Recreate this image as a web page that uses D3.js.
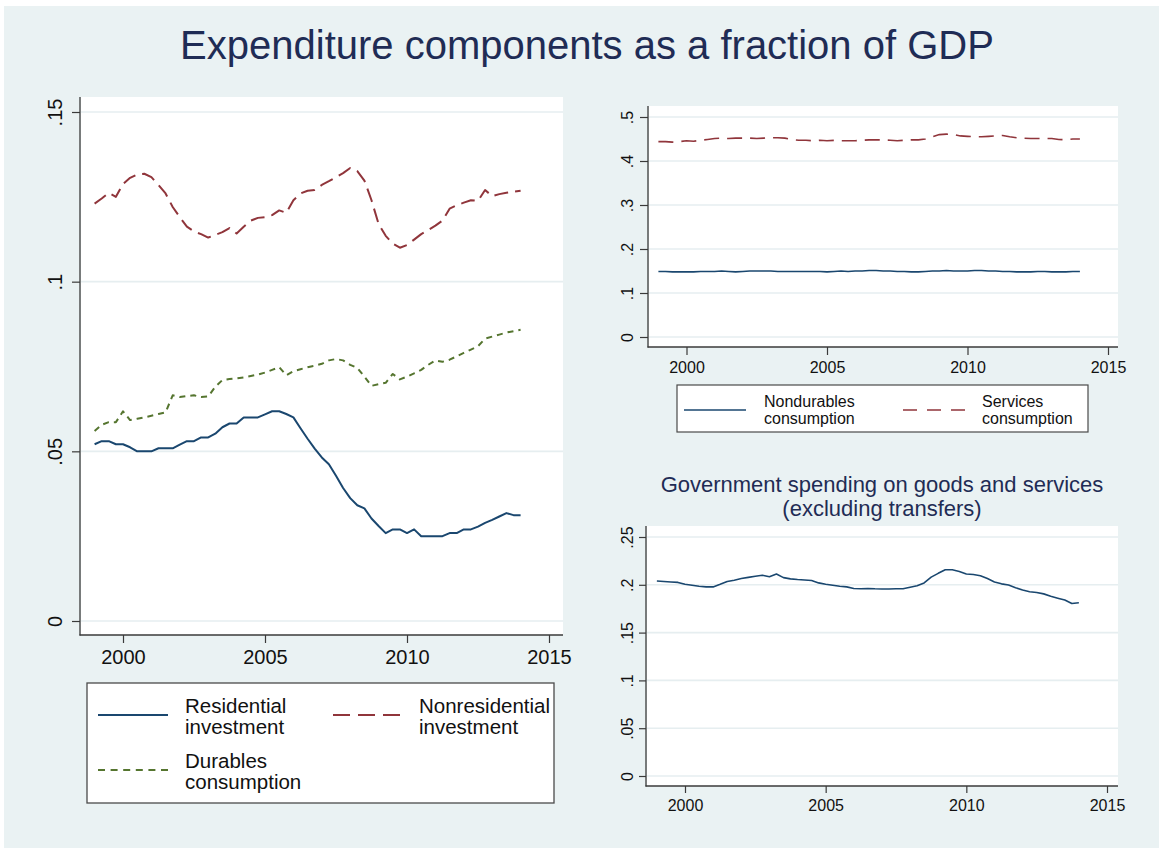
<!DOCTYPE html>
<html>
<head>
<meta charset="utf-8">
<script src="https://cdn.jsdelivr.net/npm/d3@7"></script>
<style>
  html, body { margin: 0; padding: 0; background: #ffffff; }
  svg { display: block; font-family: "Liberation Sans", Arial, Helvetica, sans-serif; }
</style>
</head>
<body>
<script>
// Quarterly observations, 1999Q1 through 2014Q1
const startYear = 1999;
const quarterCount = 61;
const quarters = d3.range(quarterCount).map(i => startYear + i / 4);

// Investment and durables shares of GDP
const residentialInvestment = [
  0.0521, 0.0530, 0.0530, 0.0521,
  0.0521, 0.0512, 0.0500, 0.0500,
  0.0500, 0.0509, 0.0509, 0.0509,
  0.0520, 0.0530, 0.0530, 0.0541,
  0.0541, 0.0552, 0.0571, 0.0582,
  0.0582, 0.0600, 0.0600, 0.0600,
  0.0609, 0.0618, 0.0618, 0.0610,
  0.0600, 0.0568, 0.0537, 0.0508,
  0.0482, 0.0462, 0.0428, 0.0392,
  0.0362, 0.0341, 0.0332, 0.0302,
  0.0280, 0.0259, 0.0270, 0.0270,
  0.0259, 0.0270, 0.0250, 0.0250,
  0.0250, 0.0250, 0.0259, 0.0259,
  0.0270, 0.0270, 0.0278, 0.0289,
  0.0298, 0.0308, 0.0318, 0.0312,
  0.0312
];
const nonresidentialInvestment = [
  0.1230, 0.1245, 0.1262, 0.1250,
  0.1288, 0.1306, 0.1316, 0.1318,
  0.1308, 0.1285, 0.1260, 0.1220,
  0.1190, 0.1162, 0.1148, 0.1140,
  0.1130, 0.1138, 0.1146, 0.1158,
  0.1142, 0.1162, 0.1180, 0.1188,
  0.1190, 0.1196, 0.1210, 0.1203,
  0.1240, 0.1260, 0.1268, 0.1270,
  0.1285, 0.1296, 0.1308, 0.1320,
  0.1335, 0.1326, 0.1298, 0.1240,
  0.1170, 0.1135, 0.1112, 0.1100,
  0.1108, 0.1124, 0.1140, 0.1152,
  0.1165, 0.1180, 0.1215, 0.1225,
  0.1233, 0.1240, 0.1238, 0.1270,
  0.1252, 0.1258, 0.1262, 0.1265,
  0.1268
];
const durablesConsumption = [
  0.0560, 0.0578, 0.0586, 0.0586,
  0.0618, 0.0592, 0.0596, 0.0600,
  0.0605, 0.0610, 0.0615, 0.0665,
  0.0660, 0.0663, 0.0665, 0.0660,
  0.0662, 0.0690, 0.0710, 0.0713,
  0.0715, 0.0718, 0.0722, 0.0726,
  0.0732, 0.0740, 0.0748, 0.0724,
  0.0736, 0.0742, 0.0748, 0.0752,
  0.0758, 0.0768, 0.0772, 0.0768,
  0.0755, 0.0746, 0.0720, 0.0693,
  0.0698, 0.0702, 0.0728, 0.0712,
  0.0720, 0.0730, 0.0740, 0.0755,
  0.0768, 0.0764, 0.0770, 0.0780,
  0.0790, 0.0800, 0.0810, 0.0832,
  0.0838, 0.0844, 0.0850, 0.0854,
  0.0858
];

// Nondurables and services consumption shares of GDP
const nondurablesConsumption = [
  0.149, 0.149, 0.148, 0.148,
  0.148, 0.148, 0.149, 0.149,
  0.149, 0.150, 0.149, 0.148,
  0.149, 0.150, 0.150, 0.150,
  0.150, 0.149, 0.149, 0.149,
  0.149, 0.149, 0.149, 0.149,
  0.148, 0.149, 0.150, 0.149,
  0.150, 0.150, 0.151, 0.151,
  0.150, 0.150, 0.149, 0.149,
  0.148, 0.148, 0.149, 0.150,
  0.150, 0.151, 0.150, 0.150,
  0.150, 0.151, 0.151, 0.150,
  0.150, 0.149, 0.149, 0.148,
  0.148, 0.148, 0.149, 0.149,
  0.148, 0.148, 0.148, 0.149,
  0.149
];
const servicesConsumption = [
  0.444, 0.444, 0.443, 0.444,
  0.446, 0.445, 0.447, 0.449,
  0.451, 0.452, 0.451, 0.452,
  0.452, 0.452, 0.451, 0.452,
  0.453, 0.453, 0.452, 0.449,
  0.447, 0.447, 0.446, 0.447,
  0.446, 0.447, 0.446, 0.446,
  0.446, 0.447, 0.448, 0.448,
  0.448, 0.447, 0.446, 0.447,
  0.448, 0.448, 0.450, 0.455,
  0.460, 0.461, 0.460, 0.457,
  0.456, 0.455, 0.455, 0.456,
  0.457, 0.458, 0.455, 0.453,
  0.452, 0.451, 0.451, 0.451,
  0.451, 0.449, 0.448, 0.450,
  0.450
];

// Government purchases of goods and services, share of GDP
const governmentSpending = [
  0.2040, 0.2035, 0.2030, 0.2025,
  0.2005, 0.1995, 0.1985, 0.1978,
  0.1978, 0.2005, 0.2035, 0.2048,
  0.2065, 0.2078, 0.2090, 0.2100,
  0.2085, 0.2113, 0.2075, 0.2062,
  0.2055, 0.2050, 0.2045, 0.2020,
  0.2005, 0.1995, 0.1985, 0.1978,
  0.1962, 0.1958, 0.1962, 0.1958,
  0.1956, 0.1956, 0.1958, 0.1958,
  0.1975, 0.1990, 0.2020, 0.2080,
  0.2120, 0.2157, 0.2157, 0.2140,
  0.2113, 0.2108, 0.2095, 0.2065,
  0.2030, 0.2010, 0.1997, 0.1970,
  0.1945, 0.1928, 0.1920, 0.1905,
  0.1880, 0.1860, 0.1840, 0.1805,
  0.1812
];

// Axis ticks and their labels
const yearTicks = [2000, 2005, 2010, 2015];
const investmentTicks = [0, 0.05, 0.1, 0.15];
const investmentTickLabels = ["0", ".05", ".1", ".15"];
const consumptionTicks = [0, 0.1, 0.2, 0.3, 0.4, 0.5];
const consumptionTickLabels = ["0", ".1", ".2", ".3", ".4", ".5"];
const governmentTicks = [0, 0.05, 0.1, 0.15, 0.2, 0.25];
const governmentTickLabels = ["0", ".05", ".1", ".15", ".2", ".25"];

// Text
const chartTitle = "Expenditure components as a fraction of GDP";
const governmentTitle = ["Government spending on goods and services", "(excluding transfers)"];
const investmentLegend = [
  ["Residential", "investment"],
  ["Nonresidential", "investment"],
  ["Durables", "consumption"]
];
const consumptionLegend = [
  ["Nondurables", "consumption"],
  ["Services", "consumption"]
];

// Palette
const NAVY = "#1a476f";
const MAROON = "#90353b";
const GREEN = "#55752f";
const BG = "#eaf2f3";
const GRID = "#e6eef0";
const AXIS = "#3a3a3a";
const TEXT = "#111111";

const W = 1159, H = 848;
const svg = d3.select("body").append("svg").attr("width", W).attr("height", H);

svg.append("rect").attr("x", 4).attr("y", 6).attr("width", W - 4).attr("height", H - 6).attr("fill", BG);

svg.append("text")
  .attr("x", 587).attr("y", 59)
  .attr("text-anchor", "middle")
  .attr("font-size", 40)
  .attr("fill", "#1f2c55")
  .text(chartTitle);

function drawPanel(cfg) {
  const g = svg.append("g");
  const x = d3.scaleLinear().domain([2000, 2015]).range(cfg.xRange);
  const y = d3.scaleLinear().domain([0, cfg.yTicks[cfg.yTicks.length - 1]]).range(cfg.yRange);

  // plot region
  g.append("rect")
    .attr("x", cfg.box[0]).attr("y", cfg.box[1])
    .attr("width", cfg.box[2] - cfg.box[0]).attr("height", cfg.box[3] - cfg.box[1])
    .attr("fill", "#ffffff");

  // horizontal grid
  g.selectAll(".grid").data(cfg.yTicks).join("line")
    .attr("x1", cfg.box[0]).attr("x2", cfg.box[2])
    .attr("y1", d => y(d)).attr("y2", d => y(d))
    .attr("stroke", GRID).attr("stroke-width", 1.6);

  // series
  const line = d3.line().x(d => x(d.t)).y(d => y(d.v));
  cfg.series.forEach(s => {
    const pts = quarters.map((t, i) => ({ t, v: s.values[i] }));
    g.append("path")
      .attr("d", line(pts))
      .attr("fill", "none")
      .attr("stroke", s.color)
      .attr("stroke-width", s.width)
      .attr("stroke-dasharray", s.dash || null)
      .attr("stroke-linejoin", "round");
  });

  // y axis
  const yAxis = d3.axisLeft(y)
    .tickValues(cfg.yTicks)
    .tickFormat((d, i) => cfg.yLabels[i])
    .tickSize(cfg.tickLen).tickSizeOuter(0);
  const ya = g.append("g").attr("transform", `translate(${cfg.axisX},0)`).call(yAxis);
  ya.select(".domain").remove();
  ya.selectAll(".tick line").attr("stroke", AXIS).attr("stroke-width", 1.2);
  ya.selectAll(".tick text")
    .attr("transform", "rotate(-90)")
    .attr("x", 0).attr("y", -cfg.yLabelOffset).attr("dy", 0)
    .attr("text-anchor", "middle")
    .attr("font-size", cfg.fontSize)
    .attr("font-family", "Liberation Sans, Arial, sans-serif")
    .attr("fill", TEXT);
  g.append("line")
    .attr("x1", cfg.axisX).attr("x2", cfg.axisX)
    .attr("y1", cfg.box[1]).attr("y2", cfg.axisY + 0.5)
    .attr("stroke", AXIS).attr("stroke-width", 1.3);

  // x axis
  const xAxis = d3.axisBottom(x)
    .tickValues(yearTicks)
    .tickFormat(d3.format("d"))
    .tickSize(cfg.tickLen).tickSizeOuter(0);
  const xa = g.append("g").attr("transform", `translate(0,${cfg.axisY})`).call(xAxis);
  xa.select(".domain").remove();
  xa.selectAll(".tick line").attr("stroke", AXIS).attr("stroke-width", 1.2);
  xa.selectAll(".tick text")
    .attr("y", cfg.xLabelOffset).attr("dy", 0)
    .attr("font-size", cfg.fontSize)
    .attr("font-family", "Liberation Sans, Arial, sans-serif")
    .attr("fill", TEXT);
  g.append("line")
    .attr("x1", cfg.axisX - 0.5).attr("x2", cfg.box[2])
    .attr("y1", cfg.axisY).attr("y2", cfg.axisY)
    .attr("stroke", AXIS).attr("stroke-width", 1.3);
}

// Left: investment and durables
drawPanel({
  box: [81, 97, 563, 635], axisX: 80, axisY: 635,
  xRange: [123, 549], yRange: [621, 112],
  yTicks: investmentTicks, yLabels: investmentTickLabels,
  tickLen: 8, yLabelOffset: 18, xLabelOffset: 29, fontSize: 20,
  series: [
    { values: nonresidentialInvestment, color: MAROON, width: 2, dash: "14,7" },
    { values: durablesConsumption, color: GREEN, width: 2, dash: "6,5" },
    { values: residentialInvestment, color: NAVY, width: 2 }
  ]
});

// Top right: nondurables and services
drawPanel({
  box: [649, 106, 1118, 347], axisX: 648, axisY: 347,
  xRange: [686.5, 1108], yRange: [337, 117],
  yTicks: consumptionTicks, yLabels: consumptionTickLabels,
  tickLen: 8, yLabelOffset: 15, xLabelOffset: 26, fontSize: 16,
  series: [
    { values: servicesConsumption, color: MAROON, width: 1.6, dash: "15,8" },
    { values: nondurablesConsumption, color: NAVY, width: 1.6 }
  ]
});

// Bottom right: government purchases
drawPanel({
  box: [647, 526, 1118, 786], axisX: 646, axisY: 786,
  xRange: [685, 1107], yRange: [776, 537],
  yTicks: governmentTicks, yLabels: governmentTickLabels,
  tickLen: 7, yLabelOffset: 13, xLabelOffset: 25, fontSize: 16,
  series: [
    { values: governmentSpending, color: NAVY, width: 1.6 }
  ]
});

// Two-line panel heading, each line its own text element
svg.selectAll(".gov-title").data(governmentTitle).join("text")
  .attr("class", "gov-title")
  .attr("x", 882)
  .attr("y", (d, i) => 492 + i * 24)
  .attr("text-anchor", "middle")
  .attr("font-size", 22).attr("fill", "#1f2c55")
  .text(d => d);

// Legends
function legendEntry(g, key, labels, kx, ky, keyLen, tx, ty, lineGap, fontSize) {
  g.append("line")
    .attr("x1", kx).attr("x2", kx + keyLen)
    .attr("y1", ky).attr("y2", ky)
    .attr("stroke", key.color).attr("stroke-width", key.width)
    .attr("stroke-dasharray", key.dash || null);
  labels.forEach((label, i) => {
    g.append("text")
      .attr("x", tx).attr("y", ty + i * lineGap)
      .attr("font-size", fontSize).attr("fill", TEXT)
      .text(label);
  });
}

const leftLegend = svg.append("g");
leftLegend.append("rect")
  .attr("x", 87).attr("y", 683).attr("width", 467).attr("height", 120)
  .attr("fill", "#ffffff").attr("stroke", "#4a4a4a").attr("stroke-width", 1.3);
legendEntry(leftLegend, { color: NAVY, width: 2 }, investmentLegend[0], 98, 715, 70, 185, 713, 21, 20.5);
legendEntry(leftLegend, { color: MAROON, width: 2, dash: "17,8" }, investmentLegend[1], 333, 715, 67, 419, 713, 21, 20.5);
legendEntry(leftLegend, { color: GREEN, width: 2, dash: "7,5.6" }, investmentLegend[2], 98, 770, 70, 185, 768, 21, 20.5);

const rightLegend = svg.append("g");
rightLegend.append("rect")
  .attr("x", 677).attr("y", 385).attr("width", 411).attr("height", 47)
  .attr("fill", "#ffffff").attr("stroke", "#4a4a4a").attr("stroke-width", 1.2);
legendEntry(rightLegend, { color: NAVY, width: 1.6 }, consumptionLegend[0], 684, 410, 62, 764, 407, 17, 16);
legendEntry(rightLegend, { color: MAROON, width: 1.6, dash: "14,10" }, consumptionLegend[1], 903, 410, 62, 982, 407, 17, 16);
</script>
</body>
</html>
